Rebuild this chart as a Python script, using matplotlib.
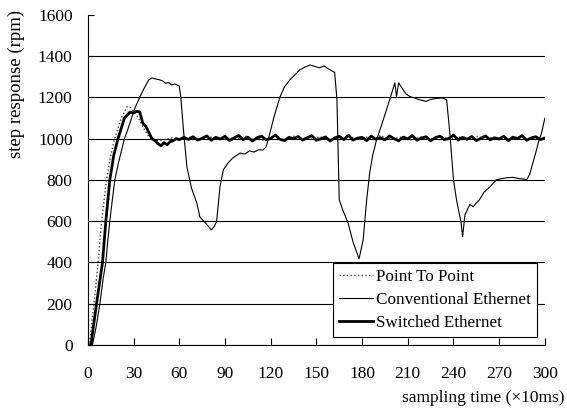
import matplotlib
matplotlib.use("Agg")
import matplotlib.pyplot as plt
import numpy as np

plt.rcParams['font.family'] = ['Liberation Serif', 'DejaVu Serif']

# Point To Point (dotted): start-up part, then steady part every 4 samples
p2p_start = [(0, 0), (1, 0), (4, 200), (6.7, 400), (9, 600), (12.2, 800), (15, 920),
             (18, 1010), (22, 1100), (25.6, 1154), (28, 1150), (31, 1125), (34, 1090),
             (37, 1045), (40, 1010), (44, 990)]
p2p_steady = [992, 998, 1004, 996, 1001, 1007, 995, 1002,
              1009, 997, 1003, 993, 1006, 1000, 1011, 996,
              1002, 990, 1005, 1008, 994, 1001, 1013, 998,
              1004, 995, 1010, 999, 992, 1006, 1003, 1012,
              996, 1001, 1008, 994, 1015, 1000, 997, 1005,
              1010, 993, 1002, 1009, 996, 1004, 1012, 998,
              1001, 1007, 994, 1003, 1011, 997, 1005, 999,
              1008, 995, 1002, 1010, 996, 1004, 999, 1003]

# Switched Ethernet (thick): start-up part, then steady part every 3 samples
sw_start = [(0, 0), (2, 0), (5.7, 200), (9.6, 400), (11.8, 600), (14.4, 800), (17, 920),
            (19.8, 1000), (24, 1100), (27.6, 1128), (30, 1125), (32, 1132), (34, 1130),
            (36, 1076), (38, 1060), (40, 1030), (42, 1000), (44, 990), (46, 975),
            (48, 965), (50, 980), (52, 970), (54, 985), (56, 990), (58, 1000)]
sw_steady = [995, 1006, 996, 1009, 993, 1001, 1013, 992, 1006, 998,
             1011, 991, 1003, 1015, 995, 1007, 988, 1004, 1012, 994,
             1001, 1017, 997, 990, 1006, 999, 1010, 993, 1004, 1014,
             992, 999, 1008, 988, 1003, 1011, 995, 1016, 993, 1002,
             1006, 990, 1012, 997, 1004, 994, 1013, 1000, 989, 1007,
             998, 1015, 992, 1003, 1009, 989, 1004, 1012, 995, 1001,
             1017, 993, 1006, 997, 1010, 990, 1002, 1013, 994, 1004,
             998, 1011, 990, 1007, 1000, 1014, 992, 1003, 1009, 995,
             1003]

# Conventional Ethernet (thin)
conv = [(0, 0), (3, 0), (5.5, 90), (7.9, 200), (10, 320), (11.8, 400), (13, 500),
        (14.4, 600), (16, 700), (17.7, 800), (20, 880), (22, 940), (24, 1000),
        (26, 1040), (28.7, 1100), (31, 1150), (34, 1200), (37, 1245), (40, 1285),
        (42, 1294), (44, 1290), (47, 1285), (49, 1280), (51, 1268), (53, 1272),
        (55, 1260), (57, 1265), (58.6, 1260), (60, 1255), (61, 1200), (63, 1020),
        (65, 863), (68, 760), (71.5, 688), (73.5, 620), (76, 600), (78, 585),
        (81, 557), (83, 575), (84.5, 597), (86.7, 766), (89, 850), (92, 882),
        (95, 905), (97, 915), (100, 930), (103, 925), (106, 940), (109, 935),
        (112, 945), (115, 945), (117, 960), (119.5, 1027), (122, 1100), (126, 1200),
        (129, 1250), (132.6, 1285), (136, 1310), (139, 1333), (142, 1345),
        (145.7, 1357), (149, 1350), (152, 1343), (155, 1352), (159, 1333),
        (162, 1321), (163.5, 1188), (165, 703), (167.5, 650), (170.8, 591),
        (174, 500), (178, 417), (180.7, 509), (183, 703), (185, 834), (187, 920),
        (189.5, 994), (193, 1070), (196, 1140), (199, 1210), (201.5, 1270),
        (202.6, 1204), (204, 1270), (207, 1236), (209, 1215), (211.4, 1204),
        (215, 1195), (218, 1188), (222, 1180), (225, 1190), (229, 1195),
        (233, 1197), (235.5, 1188), (237.6, 1027), (240, 800), (242, 703),
        (245, 591), (246, 524), (247.5, 630), (250.7, 680), (253, 670), (255, 688),
        (257, 703), (260, 740), (264, 766), (268, 800), (271, 805), (275, 810),
        (279, 812), (283, 806), (286, 804), (288, 800), (290, 826), (292, 880),
        (294.5, 945), (296, 990), (297.8, 1027), (300, 1100)]

x_ticks = [0, 30, 60, 90, 120, 150, 180, 210, 240, 270, 300]
y_ticks = [0, 200, 400, 600, 800, 1000, 1200, 1400, 1600]

p2p_t = [p[0] for p in p2p_start] + list(np.arange(48, 301, 4))
p2p_v = [p[1] for p in p2p_start] + p2p_steady
sw_t = [p[0] for p in sw_start] + list(np.arange(60, 301, 3))
sw_v = [p[1] for p in sw_start] + sw_steady
conv_t = [p[0] for p in conv]
conv_v = [p[1] for p in conv]

fig = plt.figure(figsize=(5.67, 4.12), dpi=100)
ax = fig.add_axes([0.155, 0.163, 0.806, 0.801])

ax.plot(p2p_t, p2p_v, color='#444444', linestyle=':', linewidth=1.0, label='Point To Point')
ax.plot(conv_t, conv_v, color='black', linewidth=0.8, label='Conventional Ethernet')
ax.plot(sw_t, sw_v, color='black', linewidth=2.0, label='Switched Ethernet')

ax.set_xlim(0, 300)
ax.set_ylim(0, 1600)
ax.set_xticks(x_ticks)
ax.set_yticks(y_ticks)
ax.yaxis.grid(True, color='black', linewidth=0.8)
ax.set_axisbelow(True)
ax.yaxis.get_gridlines()[-1].set_visible(False)

ax.spines['top'].set_visible(False)
ax.spines['right'].set_visible(False)
ax.spines['left'].set_linewidth(0.8)
ax.spines['bottom'].set_linewidth(0.8)
ax.tick_params(axis='x', direction='in', length=5, width=0.8, pad=15, labelsize=12.5)
ax.tick_params(axis='y', direction='in', length=4, width=0.8, pad=11, labelsize=12.5)

ax.set_ylabel('step response (rpm)', fontsize=13.5)
ax.yaxis.set_label_coords(-0.138, 0.79)
fig.text(0.996, 0.034, 'sampling time (×10ms)', ha='right', va='center', fontsize=12.5)

leg = ax.legend(loc='lower right', bbox_to_anchor=(0.982, 0.024), fontsize=12.3,
                frameon=True, fancybox=False, edgecolor='black', framealpha=1,
                handlelength=2.0, labelspacing=0.4, borderpad=0.35, handletextpad=0.15,
                borderaxespad=0)
leg.get_frame().set_linewidth(0.8)

fig.savefig('out.png', dpi=100)
